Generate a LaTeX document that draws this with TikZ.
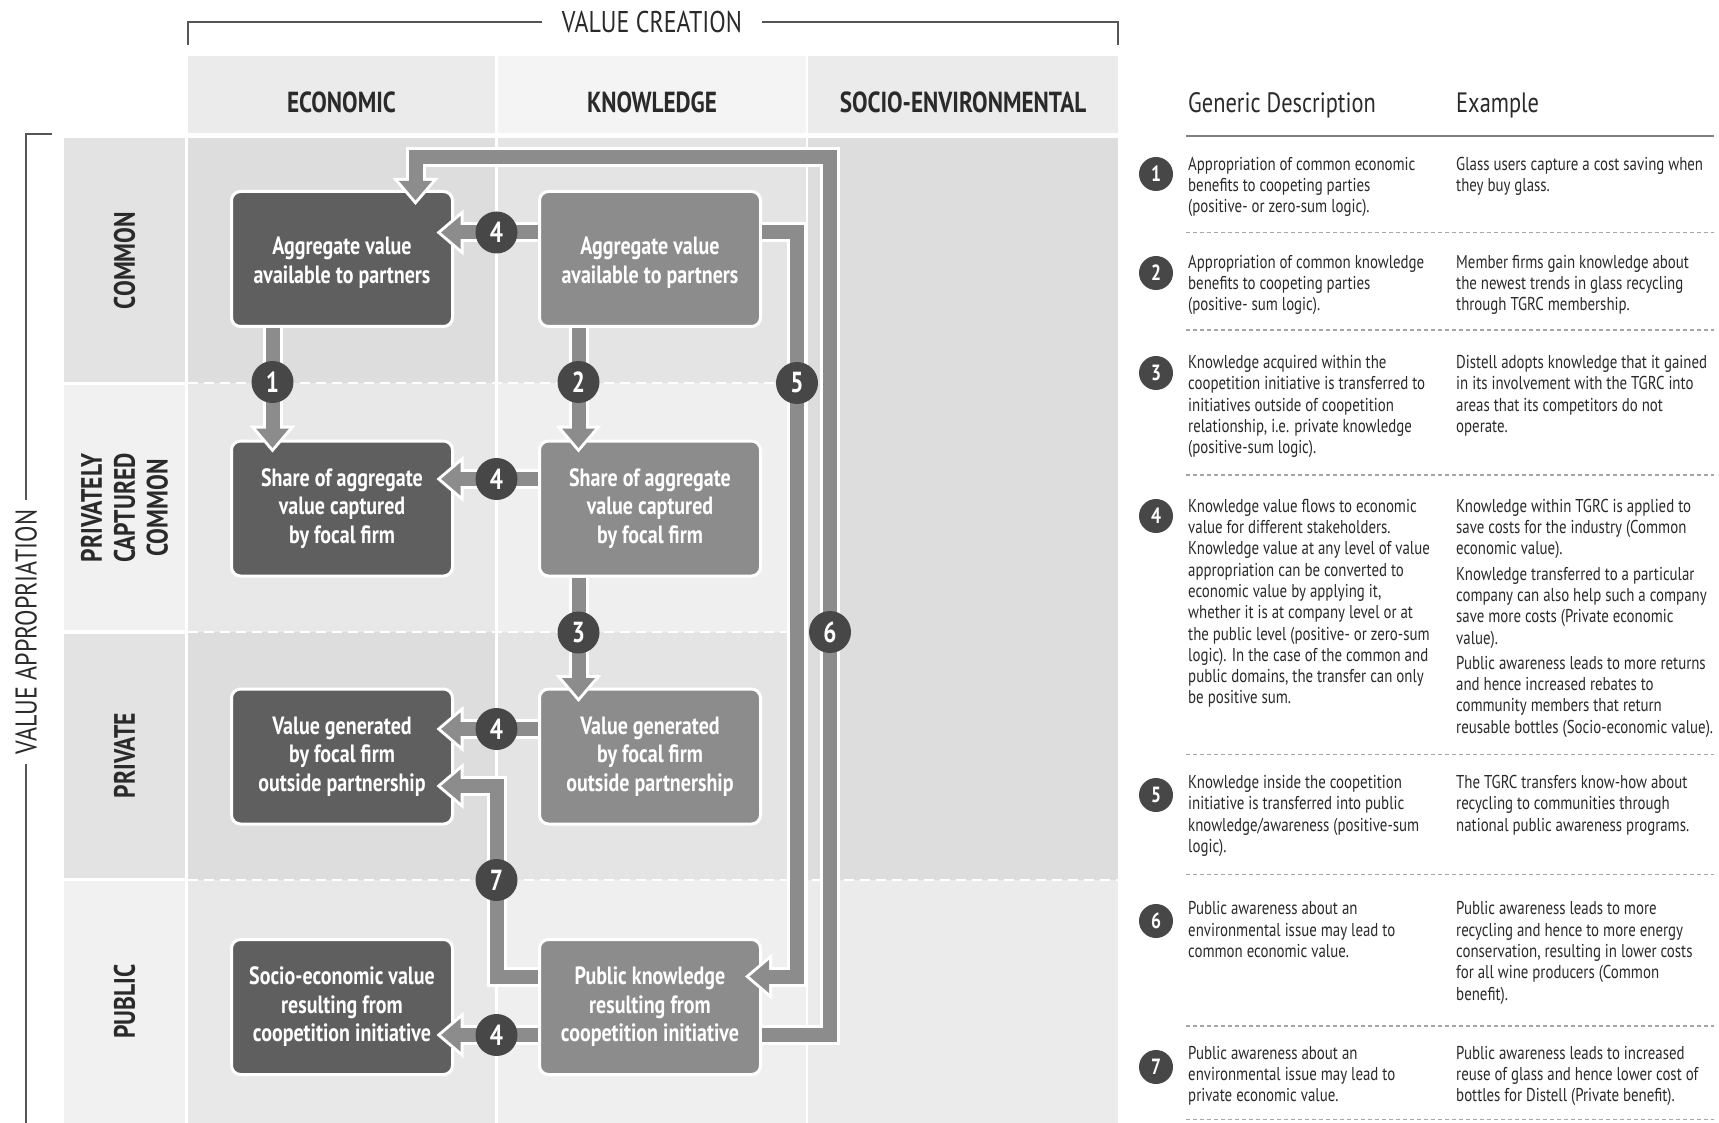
\documentclass[tikz,border=0pt]{standalone}
\usepackage{fontspec}
\setmainfont[FakeStretch=0.8]{PT Sans}
\usetikzlibrary{positioning,calc}

\definecolor{econfill}{HTML}{5F5F5F}
\definecolor{knowfill}{HTML}{8C8C8C}
\definecolor{flowgray}{HTML}{8C8C8C}
\definecolor{badgefill}{HTML}{474747}
\definecolor{inkgray}{HTML}{2A2A2A}
\definecolor{rulegray}{HTML}{555555}
\definecolor{headecon}{HTML}{EBEBEB}
\definecolor{headknow}{HTML}{F4F4F4}
\definecolor{econ0}{HTML}{DDDDDD}
\definecolor{econ1}{HTML}{E8E8E8}
\definecolor{know0}{HTML}{E4E4E4}
\definecolor{know1}{HTML}{EFEFEF}
\definecolor{lab0}{HTML}{E3E3E3}
\definecolor{lab1}{HTML}{F1F1F1}
\definecolor{socio0}{HTML}{DDDDDD}
\definecolor{socio1}{HTML}{EBEBEB}

\newcommand\listfont{\fontsize{18.6}{21.3}\selectfont}
\newcommand\headrim[2]{\fill[white, shift={#1}, rotate=#2] (0,0) -- (-27,23) -- (-27,-23) -- cycle;}
\newcommand\headcore[2]{\fill[flowgray, shift={#1}, rotate=#2] (-4.6,0) -- (-24,16.5) -- (-24,-16.5) -- cycle;}

\begin{document}
\begin{tikzpicture}[x=1pt, y=-1pt,
    box/.style={draw=white, line width=3pt, rounded corners=9pt, minimum width=221pt, minimum height=135pt,
      inner sep=0pt, align=center, text=white, font=\fontsize{25}{28.5}\selectfont\bfseries},
    econbox/.style={box, fill=econfill},
    knowbox/.style={box, fill=knowfill},
    band/.style={draw=flowgray, line width=14pt, preaction={draw=white, line width=20pt}},
    badge/.style={circle, fill=badgefill, text=white, inner sep=0pt, minimum size=42pt,
      font=\fontsize{29}{29}\selectfont\bfseries},
    listbadge/.style={circle, fill=badgefill, text=white, inner sep=0pt, minimum size=34pt,
      font=\fontsize{22}{22}\selectfont\bfseries},
    rowsep/.style={draw=white, line width=2pt, dash pattern=on 10pt off 6pt},
    colhead/.style={text=inkgray, font=\fontsize{29}{30}\selectfont\bfseries},
    rowlabel/.style={rotate=90, align=center, text=inkgray, font=\fontsize{29.5}{32.8}\selectfont\bfseries},
    axislabel/.style={text=inkgray, font=\fontsize{30}{30}\selectfont},
    bracketline/.style={draw=rulegray, line width=2pt},
    desc/.style={anchor=north west, inner sep=0pt, align=left, text=inkgray, font=\listfont},
    tablesep/.style={draw=gray!70, line width=1.5pt, dash pattern=on 4pt off 3pt}]

\useasboundingbox (0,0) rectangle (1719,1123);
\fill[white] (0,0) rectangle (1719,1123);

% column heads
\fill[headecon] (188,56) rectangle (495,133);
\fill[headknow] (498,56) rectangle (806,133);
\fill[headecon] (808,56) rectangle (1118,133);

% grid cells
\foreach \ya/\yb/\s in {138/382/0, 385/630/1, 634/878/0, 881/1123/1}
  \fill[lab\s] (64,\ya) rectangle (185,\yb);
\foreach \ya/\yb/\s in {138/383/0, 383/632/1, 632/880/0, 880/1123/1}{
  \fill[econ\s] (188,\ya) rectangle (495,\yb);
  \fill[know\s] (498,\ya) rectangle (806,\yb);
}
\fill[socio0] (808,138) rectangle (1118,880);
\fill[socio1] (808,880) rectangle (1118,1123);
\draw[rowsep] (188,383) -- (806,383);
\draw[rowsep] (188,632) -- (806,632);
\draw[rowsep] (188,880) -- (1118,880);

% axes
\node[axislabel, inner xsep=20pt] (vc) at (652,22) {VALUE CREATION};
\draw[bracketline] (188,45) |- (vc.west);
\draw[bracketline] (vc.east) -| (1118,45);
\node[axislabel, rotate=90, inner xsep=10pt] (va) at (26,632) {VALUE APPROPRIATION};
\coordinate (vabot) at (26,1123);
\draw[bracketline] (52,134) -| (va.east);
\draw[bracketline] (va.west) -- (vabot);

\node[colhead] (hecon) at (341.5,102) {ECONOMIC};
\node[colhead] (hknow) at (652,102) {KNOWLEDGE};
\node[colhead] (hsocio) at (963,102) {SOCIO-ENVIRONMENTAL};

\node[rowlabel] (rcommon) at (124.5,260.5) {COMMON};
\node[rowlabel] (rprivcap) at (124.5,508) {PRIVATELY\\CAPTURED\\COMMON};
\node[rowlabel] (rprivate) at (124.5,755.5) {PRIVATE};
\node[rowlabel] (rpublic) at (124.5,1001.5) {PUBLIC};

% value boxes
\node[econbox] (e1) at (342,259) {\rule{0pt}{25pt}Aggregate value\\available to partners};
\node[econbox] (e2) at (342,508.5) {Share of aggregate\\value captured\\by focal firm};
\node[econbox] (e3) at (342,756.5) {Value generated\\by focal firm\\outside partnership};
\node[econbox] (e4) at (342,1007) {Socio-economic value\\resulting from\\coopetition initiative};
\node[knowbox, right=84pt of e1] (k1) {\rule{0pt}{25pt}Aggregate value\\available to partners};
\node[knowbox, right=84pt of e2] (k2) {Share of aggregate\\value captured\\by focal firm};
\node[knowbox, right=84pt of e3] (k3) {Value generated\\by focal firm\\outside partnership};
\node[knowbox, right=84pt of e4] (k4) {Public knowledge\\resulting from\\coopetition initiative};

% arrow tips
\coordinate (t1) at (272.5,452.5);
\coordinate (t2) at (578.5,452.5);
\coordinate (t3) at (578.5,702);
\coordinate (t4a) at (436.5,232.5);
\coordinate (t4b) at (436.5,479);
\coordinate (t4c) at (436.5,729);
\coordinate (t4d) at (436.5,1035);
\coordinate (t5) at (745,976.5);
\coordinate (t6) at (415.5,205);
\coordinate (t7) at (436.5,786);

\foreach \t/\a in {t1/-90, t2/-90, t3/-90, t6/-90, t4a/180, t4b/180, t4c/180, t4d/180, t5/180, t7/180}{
  \headrim{(\t)}{\a}
}

\draw[band] (e1.south -| t1) -- ($(t1)+(0,-22)$);
\draw[band] (k1.south -| t2) -- ($(t2)+(0,-22)$);
\draw[band] (k2.south -| t3) -- ($(t3)+(0,-22)$);
\foreach \k/\t in {k1/t4a, k2/t4b, k3/t4c, k4/t4d}
  \draw[band] (\k.west |- \t) -- ($(\t)+(22,0)$);
\draw[band] (k1.east |- t4a) -- (797,232.5) -- (797,976.5) -- ($(t5)+(22,0)$);
\draw[band] (k4.east |- t4d) -- (830,1035) -- (830,157) -- (415.5,157) -- ($(t6)+(0,-22)$);
\draw[band] (k4.west |- t5) -- (497,976.5) -- (497,786) -- ($(t7)+(22,0)$);

\foreach \t/\a in {t1/-90, t2/-90, t3/-90, t6/-90, t4a/180, t4b/180, t4c/180, t4d/180, t5/180, t7/180}{
  \headcore{(\t)}{\a}
}

\node[badge] (n1) at (272.5,382) {1};
\node[badge] (n2) at (578.5,382) {2};
\node[badge] (n3) at (578.5,632.5) {3};
\node[badge] (n7) at (496.5,880) {7};
\foreach \t/\n in {t4a/n4a, t4b/n4b, t4c/n4c, t4d/n4d}
  \node[badge] (\n) at (\t -| n7) {4};
\node[badge] (n5) at (797,383) {5};
\node[badge] (n6) at (830,632) {6};

% description table
\node[anchor=base west, inner sep=0pt, text=inkgray, font=\fontsize{28}{30}\selectfont] (gd) at (1188,113) {Generic Description};
\node[anchor=base west, inner sep=0pt, text=inkgray, font=\fontsize{28}{30}\selectfont] (ge) at (1456,113) {Example};
\draw[draw=gray, line width=2.5pt] (1186,136) -- (1714,136);
\foreach \y in {232.7, 330, 474.8, 754.5, 874.7, 1025.8, 1119.4}
  \draw[tablesep] (1186,\y) -- (1714,\y);

\node[listbadge] (m1) at (1156,174) {1};
\node[desc] (d1) at (1188,155.1) {\strut Appropriation of common economic\\benefits to coopeting parties\\(positive- or zero-sum logic).};
\node[desc] (x1) at (1456,155.1) {\strut Glass users capture a cost saving when\\they buy glass.};

\node[listbadge] (m2) at (1156,273) {2};
\node[desc] (d2) at (1188,253.1) {\strut Appropriation of common knowledge\\benefits to coopeting parties\\(positive- sum logic).};
\node[desc] (x2) at (1456,253.1) {\strut Member firms gain knowledge about\\the newest trends in glass recycling\\through TGRC membership.};

\node[listbadge] (m3) at (1156,373) {3};
\node[desc] (d3) at (1188,353.4) {\strut Knowledge acquired within the\\coopetition initiative is transferred to\\initiatives outside of coopetition\\relationship, i.e. private knowledge\\(positive-sum logic).};
\node[desc] (x3) at (1456,353.4) {\strut Distell adopts knowledge that it gained\\in its involvement with the TGRC into\\areas that its competitors do not\\operate.};

\node[listbadge] (m4) at (1156,516) {4};
\node[desc] (d4) at (1188,497.1) {\strut Knowledge value flows to economic\\value for different stakeholders.\\Knowledge value at any level of value\\appropriation can be converted to\\economic value by applying it,\\whether it is at company level or at\\the public level (positive- or zero-sum\\logic). In the case of the common and\\public domains, the transfer can only\\be positive sum.};
\node[desc] (x4) at (1456,497.1) {\strut Knowledge within TGRC is applied to\\save costs for the industry (Common\\economic value).\\[4pt]Knowledge transferred to a particular\\company can also help such a company\\save more costs (Private economic\\value).\\[4pt]Public awareness leads to more returns\\and hence increased rebates to\\community members that return\\reusable bottles (Socio-economic value).};

\node[listbadge] (m5) at (1156,795) {5};
\node[desc] (d5) at (1188,773.5) {\strut Knowledge inside the coopetition\\initiative is transferred into public\\knowledge/awareness (positive-sum\\logic).};
\node[desc] (x5) at (1456,773.5) {\strut The TGRC transfers know-how about\\recycling to communities through\\national public awareness programs.};

\node[listbadge] (m6) at (1156,921) {6};
\node[desc] (d6) at (1188,899.8) {\strut Public awareness about an\\environmental issue may lead to\\common economic value.};
\node[desc] (x6) at (1456,899.8) {\strut Public awareness leads to more\\recycling and hence to more energy\\conservation, resulting in lower costs\\for all wine producers (Common\\benefit).};

\node[listbadge] (m7) at (1156,1067) {7};
\node[desc] (d7) at (1188,1044.1) {\strut Public awareness about an\\environmental issue may lead to\\private economic value.};
\node[desc] (x7) at (1456,1044.1) {\strut Public awareness leads to increased\\reuse of glass and hence lower cost of\\bottles for Distell (Private benefit).};
\end{tikzpicture}
\end{document}
